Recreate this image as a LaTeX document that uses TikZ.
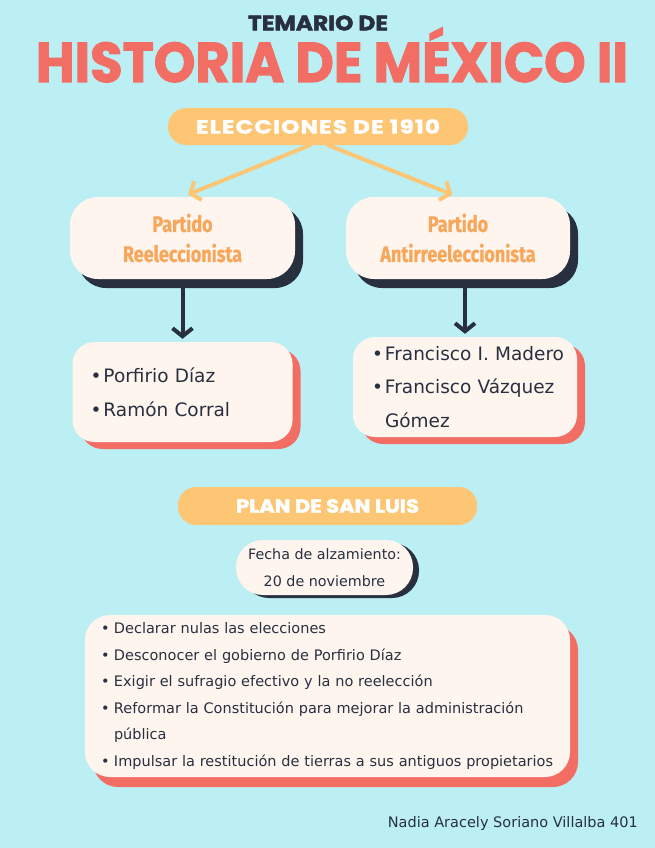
\documentclass[tikz,border=0pt]{standalone}
\usepackage{graphicx}
\usepackage{fontspec}
\setmainfont{DejaVu Sans}
\newfontfamily\headfont[FakeBold=2]{Poppins}
\newfontfamily\pillfont[LetterSpace=5, FakeBold=1.5]{Poppins}
\newfontfamily\partyfont[FakeStretch=0.8, FakeBold=0.6]{Fira Sans}
\usetikzlibrary{positioning, arrows.meta, shadows}

\definecolor{skyblue}{HTML}{BCEFF4}
\definecolor{coral}{HTML}{F26E65}
\definecolor{navy}{HTML}{283040}
\definecolor{sand}{HTML}{FDC675}
\definecolor{cream}{HTML}{FFF5EF}
\definecolor{apricot}{HTML}{F8A75A}

\newcommand{\itm}[1]{\mbox{\makebox[13pt][l]{\textbullet}#1}}
\newcommand{\cont}[1]{\mbox{\hspace*{13pt}#1}}

\begin{document}
\begin{tikzpicture}
    [
        x=1pt, y=-1pt,
        on grid,
        pill/.style={fill=sand, rounded corners=18pt, minimum width=300pt, minimum height=37pt, inner sep=0pt, text=white},
        partybox/.style={fill=cream, rounded corners=28pt, minimum width=225pt, minimum height=82pt, align=center, text=apricot,
            font=\partyfont\bfseries\fontsize{22.5}{30}\selectfont,
            drop shadow={shadow xshift=8pt, shadow yshift=-9pt, fill=navy, opacity=1}},
        listbox/.style={fill=cream, rounded corners=22pt, minimum width=220pt, minimum height=100pt, inner xsep=18pt, text width=184pt,
            align=left, text=navy, font=\fontsize{18.5}{34}\selectfont,
            drop shadow={shadow xshift=8pt, shadow yshift=-7pt, fill=coral, opacity=1}},
        datebox/.style={fill=cream, rounded corners=27pt, minimum width=177pt, minimum height=55pt, align=center, text=navy,
            font=\fontsize{14.3}{27}\selectfont,
            drop shadow={shadow xshift=6pt, shadow yshift=-3pt, fill=navy, opacity=1}},
        planbox/.style={fill=cream, rounded corners=25pt, minimum width=485pt, minimum height=162pt, inner xsep=16pt, text width=453pt,
            align=left, text=navy, font=\fontsize{14.5}{26.6}\selectfont,
            drop shadow={shadow xshift=8pt, shadow yshift=-10pt, fill=coral, opacity=1}},
        yarrow/.style={sand, line width=4pt, line cap=round, -{Straight Barb[length=8pt, width=20pt]}},
        darrow/.style={navy, line width=4pt, -{Straight Barb[length=8pt, width=20pt]}}
    ]
        % background
        \fill [skyblue] (0,0) rectangle (655,848);
        \useasboundingbox (0,0) rectangle (655,848);

        % --- heading ---
        \node [text=navy, inner sep=0pt, font=\headfont\bfseries\fontsize{21}{21}\selectfont] (subtitle) at (318,23)
            {\resizebox{140pt}{\height}{TEMARIO DE}};
        \node [anchor=base, text=coral, inner sep=0pt, font=\headfont\bfseries\fontsize{56}{56}\selectfont] (title) at (332,82)
            {\resizebox{592pt}{\height}{HISTORIA DE MÉXICO II}};

        % --- elections ---
        \node [pill, font=\pillfont\bfseries\fontsize{19}{19}\selectfont] (elec) at (318,126.5)
            {\resizebox{244pt}{\height}{ELECCIONES DE 1910}};
        \node [partybox] (reel) at (182.5,238) {Partido\\Reeleccionista};
        \node [partybox, minimum width=224pt] (anti) at (458,238) {Partido\\Antirreeleccionista};
        \node [listbox, below=154pt of reel] (reelList)
            {\itm{Porfirio Díaz}\\\itm{Ramón Corral}};
        \node [listbox, minimum width=224pt, inner xsep=19pt, text width=186pt, font=\fontsize{18.5}{33.5}\selectfont,
            below=149pt of anti, xshift=7pt] (antiList)
            {\itm{Francisco I. Madero}\\\itm{Francisco Vázquez}\\\cont{Gómez}};

        % --- plan ---
        \node [pill, minimum width=299pt, minimum height=38pt, font=\headfont\bfseries\fontsize{19}{19}\selectfont] (plan) at (327.5,506)
            {\resizebox{183pt}{\height}{PLAN DE SAN LUIS}};
        \node [datebox, below=61.5pt of plan, xshift=-3pt] (fecha) {Fecha de alzamiento:\\20 de noviembre};
        \node [planbox, below=190pt of plan] (goals)
            {\itm{Declarar nulas las elecciones}\\
             \itm{Desconocer el gobierno de Porfirio Díaz}\\
             \itm{Exigir el sufragio efectivo y la no reelección}\\
             \itm{Reformar la Constitución para mejorar la administración}\\
             \cont{pública}\\
             \itm{Impulsar la restitución de tierras a sus antiguos propietarios}};

        % --- author ---
        \node [anchor=east, inner sep=0pt, text=navy, font=\fontsize{14.5}{14.5}\selectfont] (author) at (638,823)
            {Nadia Aracely Soriano Villalba 401};

        % --- connectors ---
        \draw [yarrow, shorten >=6pt] ([xshift=-8pt]elec.south) -- (reel.north);
        \draw [yarrow, shorten >=6pt] ([xshift=10pt]elec.south) -- (anti.north);
        \draw [darrow, shorten <=9pt, shorten >=3pt] (reel.south) -- (reelList.north);
        \draw [darrow, shorten <=9pt, shorten >=3pt] (anti.south -| antiList.north) -- (antiList.north);

\end{tikzpicture}
\end{document}
